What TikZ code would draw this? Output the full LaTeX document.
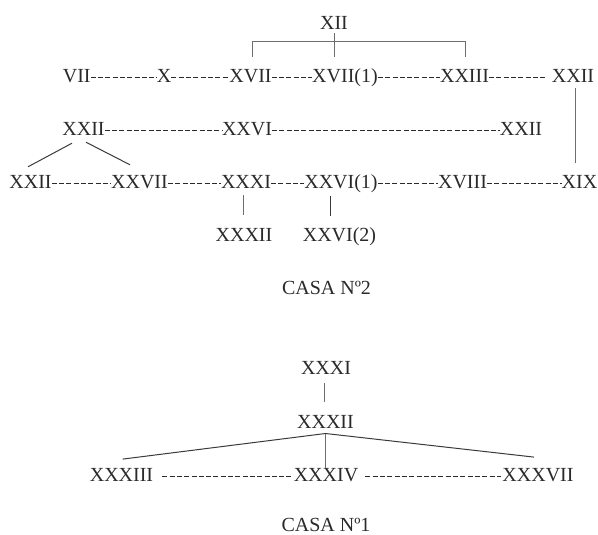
\documentclass[tikz,border=0pt]{standalone}
\usepackage{fontspec}
\setmainfont{Liberation Serif}
\definecolor{txt}{HTML}{2A2A2A}
\definecolor{lncol}{HTML}{6E6E6E}
\definecolor{dkln}{HTML}{3A3A3A}
\tikzset{
  lbl/.style={inner sep=0pt, text height=13.2pt, text depth=0pt, text=txt,
    font=\fontsize{20}{24}\selectfont},
  dsh/.style={draw=txt, line width=1.1pt, dash pattern=on 5pt off 2.3pt,
    transform canvas={yshift=-1.6pt}},
  ln/.style={draw=lncol, line width=0.8pt},
  dl/.style={draw=dkln, line width=1pt}
}
\begin{document}
\begin{tikzpicture}[x=1pt,y=-1pt]
\useasboundingbox (0,0) rectangle (598,535);
% ---------- CASA 2 ----------
\node[lbl] (xii) at (334,22.7) {XII};
% row 1
\node[lbl] (vii)   at (76.7,75.5) {VII};
\node[lbl] (x)     at (164,75.5) {X};
\node[lbl] (xvii)  at (250.5,75.5) {XVII};
\node[lbl] (xviia) at (345,75.5) {XVII(1)};
\node[lbl] (xxiii) at (464.5,75.5) {XXIII};
\node[lbl] (xxiia) at (573,75.5) {XXII};
% row 2
\node[lbl] (xxiib) at (83.5,129) {XXII};
\node[lbl] (xxvia) at (247,129) {XXVI};
\node[lbl] (xxiic) at (521,129) {XXII};
% row 3
\node[lbl] (xxiid) at (30.5,182) {XXII};
\node[lbl] (xxvii) at (139.5,182) {XXVII};
\node[lbl] (xxxia) at (246,182) {XXXI};
\node[lbl] (xxvib) at (341,182) {XXVI(1)};
\node[lbl] (xviii) at (462.5,182) {XVIII};
\node[lbl] (xix)   at (579.5,182) {XIX};
% row 4
\node[lbl] (xxxiia) at (244,235) {XXXII};
\node[lbl] (xxvic)  at (339.5,235) {XXVI(2)};
\node[lbl] (casa2)  at (326.5,288) {CASA Nº2};
% dashed links
\draw[dsh] (vii.east) -- (x.west);
\draw[dsh] (x.east) -- (xvii.west);
\draw[dsh] (xvii.east) -- (xviia.west);
\draw[dsh] (xviia.east) -- (xxiii.west);
\draw[dsh, shorten >=5pt] (xxiii.east) -- (xxiia.west);
\draw[dsh] (xxiib.east) -- (xxvia.west);
\draw[dsh] (xxvia.east) -- (xxiic.west);
\draw[dsh] (xxiid.east) -- (xxvii.west);
\draw[dsh] (xxvii.east) -- (xxxia.west);
\draw[dsh] (xxxia.east) -- (xxvib.west);
\draw[dsh] (xxvib.east) -- (xviii.west);
\draw[dsh] (xviii.east) -- (xix.west);
% bracket under XII
\draw[ln] ([yshift=-4pt]xii.south) -- ([yshift=12pt]xii.south |- xviia.north);
\draw[ln] ([shift={(2pt,12pt)}]xvii.north) -- ([shift={(2pt,27pt)}]xvii.north)
  -| ([shift={(0.5pt,12pt)}]xxiii.north);
% XXII -> XIX
\draw[ln] ([shift={(2pt,-6pt)}]xxiia.south) -- ([shift={(2pt,12.4pt)}]xxiia.south |- xix.north);
% diagonals
\draw[dl] ([shift={(-11.5pt,-7.4pt)}]xxiib.south) -- ([shift={(-2.5pt,8.4pt)}]xxiid.north);
\draw[dl] ([shift={(2.5pt,-6.4pt)}]xxiib.south) -- ([shift={(-9.5pt,10.4pt)}]xxvii.north);
% stems
\draw[ln] ([shift={(-2.7pt,-6pt)}]xxxia.south) -- ([shift={(-2.7pt,13pt)}]xxxia.south |- xxxiia.north);
\draw[dl] ([shift={(-11pt,-7pt)}]xxvib.south) -- ([shift={(-11pt,12pt)}]xxvib.south |- xxvic.north);
% ---------- CASA 1 ----------
\node[lbl] (xxxib)  at (326,368) {XXXI};
\node[lbl] (xxxiib) at (325.5,421.7) {XXXII};
\node[lbl] (xxxiii) at (121.5,474.5) {XXXIII};
\node[lbl] (xxxiv)  at (326,474.5) {XXXIV};
\node[lbl] (xxxvii) at (538,474.5) {XXXVII};
\node[lbl] (casa1)  at (326,525) {CASA Nº1};
\draw[dsh, shorten <=9pt, shorten >=2pt] (xxxiii.east) -- (xxxiv.west);
\draw[dsh, shorten <=7pt, shorten >=1pt] (xxxiv.east) -- (xxxvii.west);
\draw[ln] ([shift={(-1.5pt,-8.4pt)}]xxxib.south) -- ([shift={(-1.5pt,13pt)}]xxxib.south |- xxxiib.north);
\coordinate (apex) at ([yshift=-5pt]xxxiib.south);
\draw[dl] ([shift={(1.2pt,8.6pt)}]xxxiii.north) -- (apex) -- ([shift={(-4pt,10.6pt)}]xxxvii.north);
\draw[ln] (apex) -- (apex |- xxxiv.north);
\end{tikzpicture}
\end{document}
